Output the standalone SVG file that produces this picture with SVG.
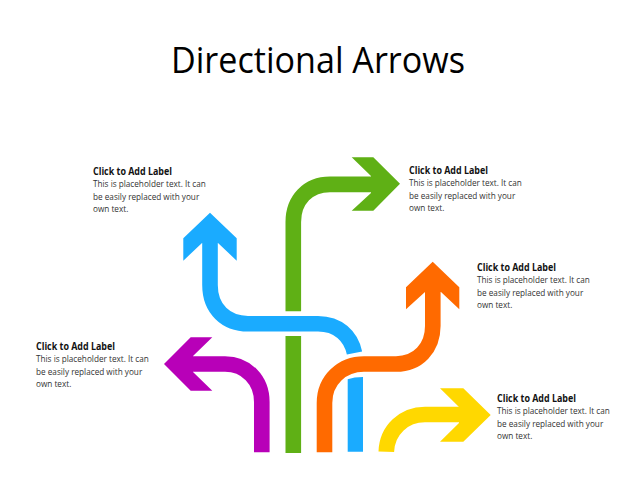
<svg xmlns="http://www.w3.org/2000/svg" width="640" height="480" viewBox="0 0 640 480">
<style>
.s{fill:none;stroke-width:15.6}
.t{font-family:"Open Sans","Liberation Sans",sans-serif;font-size:36px;fill:#000}
.h{font-family:"Open Sans","Liberation Sans",sans-serif;font-size:10.5px;font-weight:700;fill:#111}
.b{font-family:"Open Sans","Liberation Sans",sans-serif;font-size:8.2px;fill:#333}
</style>
<rect width="640" height="480" fill="#fff"/>
<text class="t" x="171" y="73" textLength="294" lengthAdjust="spacingAndGlyphs">Directional Arrows</text>
<g id="connectors">
<g id="arrow-green">
<path class="s" stroke="#5FB015" d="M293.3 311.3V222C293.3 200 308 184.4 330 184.4H380"/>
<path class="s" stroke="#5FB015" d="M293.3 336V453"/>
<polygon fill="#5FB015" points="351.7,157.3 373.3,157.3 400,183.7 373.3,210.7 351.7,210.7 371,193 371,176"/>
</g>
<g id="arrow-blue">
<path class="s" stroke="#1AABFF" d="M210 235V285C210 309 226 323.7 248 323.7H318C338 323.7 351 336 354.5 353"/>
<path fill="#1AABFF" d="M347.7 451.7V379.3Q354 377.2 363 377.1V451.7Z"/>
<polygon fill="#1AABFF" points="210,212.7 236.7,238.3 236.7,260.7 218,243 202,243 183.3,260.7 183.3,238.3"/>
</g>
<g id="arrow-purple">
<path class="s" stroke="#B800B8" d="M261.8 452.3V402C261.8 380 246 364 225 364H190"/>
<polygon fill="#B800B8" points="164,364 190.7,337.3 212.3,337.3 193,356 193,372 212.3,390.7 190.7,390.7"/>
</g>
<g id="arrow-orange">
<path class="s" stroke="#FF6A00" d="M324.5 452.3V403C324.5 380 342 364 364 364H396C418 364 432.8 348 432.8 326V285"/>
<polygon fill="#FF6A00" points="432.7,261.7 459.3,287.3 459.3,309.3 441,292 425,292 406,309.3 406,287.3"/>
</g>
<g id="arrow-yellow">
<path class="s" stroke="#FFD800" d="M386.3 451.7C387 430 404 414.5 425 414.5H470"/>
<polygon fill="#FFD800" points="440,388.3 463.3,388.3 490.7,415 463.3,441.7 440,441.7 459,423 459,407"/>
</g>
</g>
<g id="label-1"><text class="h" x="93" y="175" textLength="79" lengthAdjust="spacingAndGlyphs">Click to Add Label</text><text class="b" x="93" y="187">This is placeholder text. It can</text><text class="b" x="93" y="200">be easily replaced with your</text><text class="b" x="93" y="212">own text.</text></g>
<g id="label-2"><text class="h" x="409" y="174" textLength="79" lengthAdjust="spacingAndGlyphs">Click to Add Label</text><text class="b" x="409" y="186">This is placeholder text. It can</text><text class="b" x="409" y="199">be easily replaced with your</text><text class="b" x="409" y="211">own text.</text></g>
<g id="label-3"><text class="h" x="477" y="271" textLength="79" lengthAdjust="spacingAndGlyphs">Click to Add Label</text><text class="b" x="477" y="283">This is placeholder text. It can</text><text class="b" x="477" y="296">be easily replaced with your</text><text class="b" x="477" y="308">own text.</text></g>
<g id="label-4"><text class="h" x="36" y="350" textLength="79" lengthAdjust="spacingAndGlyphs">Click to Add Label</text><text class="b" x="36" y="362">This is placeholder text. It can</text><text class="b" x="36" y="375">be easily replaced with your</text><text class="b" x="36" y="387">own text.</text></g>
<g id="label-5"><text class="h" x="497" y="402" textLength="79" lengthAdjust="spacingAndGlyphs">Click to Add Label</text><text class="b" x="497" y="414">This is placeholder text. It can</text><text class="b" x="497" y="427">be easily replaced with your</text><text class="b" x="497" y="439">own text.</text></g>
</svg>
